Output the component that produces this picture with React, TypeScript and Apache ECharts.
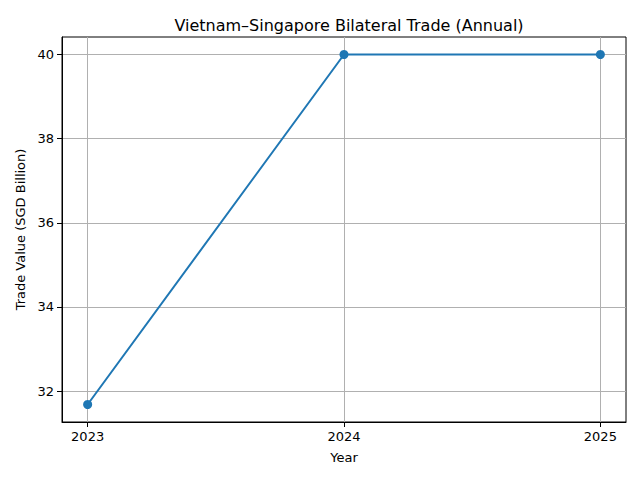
import React, { useEffect, useRef } from "react";
import * as echarts from "echarts";

const years = [2023, 2024, 2025];
const tradeValues = [31.68, 40, 40];
const yTicks = [32, 34, 36, 38, 40];

export default function App() {
  const ref = useRef<HTMLDivElement>(null);
  useEffect(() => {
    if (!ref.current) return;
    const chart = echarts.init(ref.current, null, { renderer: "svg" });
    const font = "DejaVu Sans";
    const minY = Math.min(...tradeValues);
    const maxY = Math.max(...tradeValues);
    const padY = (maxY - minY) * 0.05;
    const padX = (years[years.length - 1] - years[0]) * 0.05;
    chart.setOption({
      animation: false,
      textStyle: { fontFamily: font },
      title: {
        text: "Vietnam–Singapore Bilateral Trade (Annual)",
        left: 344,
        textAlign: "center",
        top: 12,
        textStyle: { fontFamily: font, fontSize: 16, fontWeight: "normal", color: "#000" },
      },
      grid: {
        left: 62,
        right: 14,
        top: 37,
        bottom: 58,
        show: true,
        borderColor: "#000",
        borderWidth: 1,
        backgroundColor: "transparent",
      },
      xAxis: {
        type: "value",
        min: years[0] - padX,
        max: years[years.length - 1] + padX,
        name: "Year",
        nameLocation: "middle",
        nameGap: 29,
        nameTextStyle: { fontFamily: font, fontSize: 13, color: "#000" },
        axisLine: { show: true, lineStyle: { color: "#000", width: 1 } },
        axisTick: { show: true, inside: false, length: 5, lineStyle: { color: "#000" }, customValues: years },
        axisLabel: {
          fontFamily: font,
          fontSize: 13,
          color: "#000",
          margin: 8,
          customValues: years,
          formatter: (v: number) => String(Math.round(v)),
        },
        splitLine: { show: true, lineStyle: { color: "#b0b0b0", width: 1 } },
      },
      yAxis: {
        type: "value",
        min: minY - padY,
        max: maxY + padY,
        name: "Trade Value (SGD Billion)",
        nameLocation: "middle",
        nameGap: 34,
        nameTextStyle: { fontFamily: font, fontSize: 13, color: "#000" },
        axisLine: { show: true, lineStyle: { color: "#000", width: 1 } },
        axisTick: { show: true, inside: false, length: 5, lineStyle: { color: "#000" }, customValues: yTicks },
        axisLabel: {
          fontFamily: font,
          fontSize: 13,
          color: "#000",
          margin: 8,
          customValues: yTicks,
          formatter: (v: number) => String(Math.round(v)),
        },
        splitLine: { show: true, lineStyle: { color: "#b0b0b0", width: 1 } },
      },
      series: [
        {
          type: "line",
          data: years.map((y, i) => [y, tradeValues[i]]),
          symbol: "circle",
          symbolSize: 9,
          showSymbol: true,
          lineStyle: { color: "#1f77b4", width: 2 },
          itemStyle: { color: "#1f77b4" },
        },
      ],
    });
    return () => chart.dispose();
  }, []);
  return <div ref={ref} style={{ width: 640, height: 480, position: "absolute", left: 0, top: 0 }} />;
}
